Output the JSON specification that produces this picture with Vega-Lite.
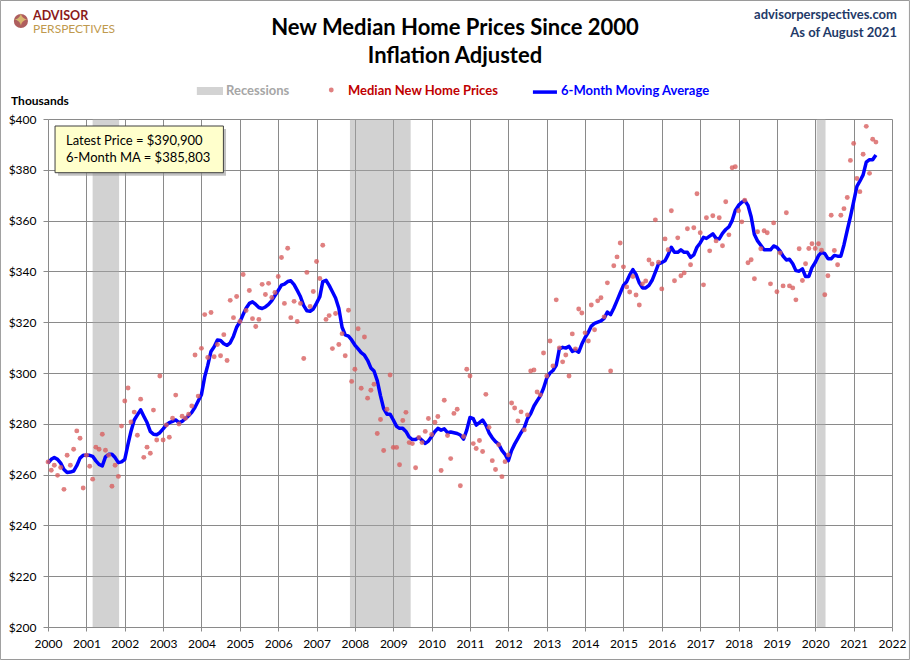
{
  "$schema": "https://vega.github.io/schema/vega-lite/v6.json",
  "description": "New median home prices since 2000, inflation adjusted, with 6-month moving average and recessions",
  "width": 844,
  "height": 508,
  "autosize": "none",
  "padding": {"left": 48, "top": 119, "right": 18, "bottom": 33},
  "background": "white",
  "datasets": {
    "recessions": [
      {"start": "2001-03-01", "end": "2001-11-08"},
      {"start": "2007-11-15", "end": "2009-06-15"},
      {"start": "2020-01-15", "end": "2020-04-08"}
    ],
    "prices": [
      {"d": "2000-01-01", "p": 265, "m": 264.5},
      {"d": "2000-02-01", "p": 261.7, "m": 266},
      {"d": "2000-03-01", "p": 263.7, "m": 266.7},
      {"d": "2000-04-01", "p": 259.7, "m": 266},
      {"d": "2000-05-01", "p": 262.8, "m": 264.5},
      {"d": "2000-06-01", "p": 254.2, "m": 262},
      {"d": "2000-07-01", "p": 267.6, "m": 260.8},
      {"d": "2000-08-01", "p": 263.7, "m": 261},
      {"d": "2000-09-01", "p": 270, "m": 261.4},
      {"d": "2000-10-01", "p": 277.2, "m": 263.5},
      {"d": "2000-11-01", "p": 274.3, "m": 266.5},
      {"d": "2000-12-01", "p": 254.7, "m": 267.6},
      {"d": "2001-01-01", "p": 267.6, "m": 267.6},
      {"d": "2001-02-01", "p": 263.3, "m": 267.6},
      {"d": "2001-03-01", "p": 258.2, "m": 267.2},
      {"d": "2001-04-01", "p": 270.8, "m": 265.4},
      {"d": "2001-05-01", "p": 270, "m": 264},
      {"d": "2001-06-01", "p": 275.9, "m": 263.4},
      {"d": "2001-07-01", "p": 269.6, "m": 267},
      {"d": "2001-08-01", "p": 267.6, "m": 268},
      {"d": "2001-09-01", "p": 255.4, "m": 268},
      {"d": "2001-10-01", "p": 263.7, "m": 266.7},
      {"d": "2001-11-01", "p": 259.3, "m": 264.7},
      {"d": "2001-12-01", "p": 279.1, "m": 265},
      {"d": "2002-01-01", "p": 289, "m": 266},
      {"d": "2002-02-01", "p": 294.1, "m": 272},
      {"d": "2002-03-01", "p": 280.7, "m": 277},
      {"d": "2002-04-01", "p": 284.6, "m": 281.5},
      {"d": "2002-05-01", "p": 275.5, "m": 283.5},
      {"d": "2002-06-01", "p": 289.7, "m": 285.5},
      {"d": "2002-07-01", "p": 266.8, "m": 283},
      {"d": "2002-08-01", "p": 270.8, "m": 280.5},
      {"d": "2002-09-01", "p": 268.4, "m": 277},
      {"d": "2002-10-01", "p": 285.4, "m": 275.9},
      {"d": "2002-11-01", "p": 273.6, "m": 275.7},
      {"d": "2002-12-01", "p": 298.8, "m": 276.5},
      {"d": "2003-01-01", "p": 273.6, "m": 278},
      {"d": "2003-02-01", "p": 279.5, "m": 279.6},
      {"d": "2003-03-01", "p": 274.7, "m": 280.5},
      {"d": "2003-04-01", "p": 282.2, "m": 281},
      {"d": "2003-05-01", "p": 291.3, "m": 281.5},
      {"d": "2003-06-01", "p": 279.9, "m": 280.5},
      {"d": "2003-07-01", "p": 283, "m": 281},
      {"d": "2003-08-01", "p": 282.2, "m": 282},
      {"d": "2003-09-01", "p": 283.8, "m": 283.2},
      {"d": "2003-10-01", "p": 287, "m": 284.5},
      {"d": "2003-11-01", "p": 307.1, "m": 286.5},
      {"d": "2003-12-01", "p": 290.9, "m": 289},
      {"d": "2004-01-01", "p": 309.7, "m": 291.5},
      {"d": "2004-02-01", "p": 323, "m": 298.5},
      {"d": "2004-03-01", "p": 306.1, "m": 303},
      {"d": "2004-04-01", "p": 323.8, "m": 308.5},
      {"d": "2004-05-01", "p": 306.4, "m": 310.3},
      {"d": "2004-06-01", "p": 311.2, "m": 313},
      {"d": "2004-07-01", "p": 306.8, "m": 312.8},
      {"d": "2004-08-01", "p": 315.1, "m": 311.5},
      {"d": "2004-09-01", "p": 304.9, "m": 310.9},
      {"d": "2004-10-01", "p": 328.6, "m": 311.9},
      {"d": "2004-11-01", "p": 321.8, "m": 314.5},
      {"d": "2004-12-01", "p": 330.1, "m": 318},
      {"d": "2005-01-01", "p": 320.3, "m": 320.1},
      {"d": "2005-02-01", "p": 338.8, "m": 323},
      {"d": "2005-03-01", "p": 324.6, "m": 325.5},
      {"d": "2005-04-01", "p": 332.5, "m": 327.4},
      {"d": "2005-05-01", "p": 321.4, "m": 328},
      {"d": "2005-06-01", "p": 318.3, "m": 327},
      {"d": "2005-07-01", "p": 321.1, "m": 325.8},
      {"d": "2005-08-01", "p": 334.9, "m": 325.4},
      {"d": "2005-09-01", "p": 330.9, "m": 326},
      {"d": "2005-10-01", "p": 335.3, "m": 327},
      {"d": "2005-11-01", "p": 329.7, "m": 328.5},
      {"d": "2005-12-01", "p": 331.7, "m": 330.5},
      {"d": "2006-01-01", "p": 338, "m": 332.5},
      {"d": "2006-02-01", "p": 345.5, "m": 334.6},
      {"d": "2006-03-01", "p": 327.4, "m": 335},
      {"d": "2006-04-01", "p": 349.1, "m": 336},
      {"d": "2006-05-01", "p": 321.8, "m": 336.3},
      {"d": "2006-06-01", "p": 328.2, "m": 334.8},
      {"d": "2006-07-01", "p": 320.3, "m": 332.5},
      {"d": "2006-08-01", "p": 327.4, "m": 330},
      {"d": "2006-09-01", "p": 305.7, "m": 326.5},
      {"d": "2006-10-01", "p": 339.6, "m": 324.5},
      {"d": "2006-11-01", "p": 326.2, "m": 324.3},
      {"d": "2006-12-01", "p": 332.1, "m": 325.2},
      {"d": "2007-01-01", "p": 343.9, "m": 327.5},
      {"d": "2007-02-01", "p": 337.2, "m": 330},
      {"d": "2007-03-01", "p": 350.3, "m": 336},
      {"d": "2007-04-01", "p": 321.1, "m": 336.5},
      {"d": "2007-05-01", "p": 322.6, "m": 334.5},
      {"d": "2007-06-01", "p": 309.6, "m": 332},
      {"d": "2007-07-01", "p": 323.4, "m": 329.5},
      {"d": "2007-08-01", "p": 311.2, "m": 325.5},
      {"d": "2007-09-01", "p": 315.5, "m": 318},
      {"d": "2007-10-01", "p": 306.8, "m": 315},
      {"d": "2007-11-01", "p": 324.7, "m": 314.5},
      {"d": "2007-12-01", "p": 296.7, "m": 313},
      {"d": "2008-01-01", "p": 301.5, "m": 311},
      {"d": "2008-02-01", "p": 317.4, "m": 309.5},
      {"d": "2008-03-01", "p": 294, "m": 308},
      {"d": "2008-04-01", "p": 314.2, "m": 307},
      {"d": "2008-05-01", "p": 290.1, "m": 305},
      {"d": "2008-06-01", "p": 293.2, "m": 302},
      {"d": "2008-07-01", "p": 295.6, "m": 300.8},
      {"d": "2008-08-01", "p": 276.2, "m": 297},
      {"d": "2008-09-01", "p": 281.7, "m": 291},
      {"d": "2008-10-01", "p": 269.5, "m": 286},
      {"d": "2008-11-01", "p": 285.7, "m": 283.8},
      {"d": "2008-12-01", "p": 299.2, "m": 283.8},
      {"d": "2009-01-01", "p": 270.7, "m": 281.5},
      {"d": "2009-02-01", "p": 270.7, "m": 279},
      {"d": "2009-03-01", "p": 263.9, "m": 278.2},
      {"d": "2009-04-01", "p": 281.3, "m": 278.2},
      {"d": "2009-05-01", "p": 284.5, "m": 277},
      {"d": "2009-06-01", "p": 272.6, "m": 274.8},
      {"d": "2009-07-01", "p": 272.2, "m": 273.8},
      {"d": "2009-08-01", "p": 262.7, "m": 273.8},
      {"d": "2009-09-01", "p": 274.6, "m": 274.6},
      {"d": "2009-10-01", "p": 272.6, "m": 273.5},
      {"d": "2009-11-01", "p": 277, "m": 272.3},
      {"d": "2009-12-01", "p": 282.1, "m": 273.2},
      {"d": "2010-01-01", "p": 275.8, "m": 275},
      {"d": "2010-02-01", "p": 280.6, "m": 277},
      {"d": "2010-03-01", "p": 282.9, "m": 278.2},
      {"d": "2010-04-01", "p": 261.6, "m": 277.5},
      {"d": "2010-05-01", "p": 289.3, "m": 278},
      {"d": "2010-06-01", "p": 275.4, "m": 276.5},
      {"d": "2010-07-01", "p": 266.3, "m": 276.8},
      {"d": "2010-08-01", "p": 284.1, "m": 276.5},
      {"d": "2010-09-01", "p": 285.7, "m": 276.2},
      {"d": "2010-10-01", "p": 255.6, "m": 275.6},
      {"d": "2010-11-01", "p": 275, "m": 274},
      {"d": "2010-12-01", "p": 301.5, "m": 277.5},
      {"d": "2011-01-01", "p": 298.8, "m": 282.5},
      {"d": "2011-02-01", "p": 272.2, "m": 282},
      {"d": "2011-03-01", "p": 270.3, "m": 279.5},
      {"d": "2011-04-01", "p": 273.4, "m": 280.5},
      {"d": "2011-05-01", "p": 269.1, "m": 281.5},
      {"d": "2011-06-01", "p": 291.6, "m": 279.5},
      {"d": "2011-07-01", "p": 278.6, "m": 276.5},
      {"d": "2011-08-01", "p": 265.5, "m": 274.5},
      {"d": "2011-09-01", "p": 262, "m": 273},
      {"d": "2011-10-01", "p": 271.8, "m": 272},
      {"d": "2011-11-01", "p": 259.2, "m": 269.5},
      {"d": "2011-12-01", "p": 265.1, "m": 268},
      {"d": "2012-01-01", "p": 267.7, "m": 265.5},
      {"d": "2012-02-01", "p": 288.2, "m": 269.5},
      {"d": "2012-03-01", "p": 286.2, "m": 272},
      {"d": "2012-04-01", "p": 281.1, "m": 274.3},
      {"d": "2012-05-01", "p": 284.7, "m": 276.5},
      {"d": "2012-06-01", "p": 277.6, "m": 278.5},
      {"d": "2012-07-01", "p": 283.5, "m": 282},
      {"d": "2012-08-01", "p": 300.8, "m": 284},
      {"d": "2012-09-01", "p": 301.2, "m": 287},
      {"d": "2012-10-01", "p": 292.5, "m": 289},
      {"d": "2012-11-01", "p": 291.4, "m": 291},
      {"d": "2012-12-01", "p": 307.9, "m": 294},
      {"d": "2013-01-01", "p": 298.8, "m": 298},
      {"d": "2013-02-01", "p": 312.6, "m": 300},
      {"d": "2013-03-01", "p": 302.8, "m": 301},
      {"d": "2013-04-01", "p": 328.8, "m": 303},
      {"d": "2013-05-01", "p": 309.9, "m": 309.5},
      {"d": "2013-06-01", "p": 304.4, "m": 310.1},
      {"d": "2013-07-01", "p": 307.1, "m": 309.8},
      {"d": "2013-08-01", "p": 298.8, "m": 310.5},
      {"d": "2013-09-01", "p": 315.4, "m": 308.5},
      {"d": "2013-10-01", "p": 309.5, "m": 309},
      {"d": "2013-11-01", "p": 325.2, "m": 308.2},
      {"d": "2013-12-01", "p": 323.6, "m": 311.4},
      {"d": "2014-01-01", "p": 315.8, "m": 314},
      {"d": "2014-02-01", "p": 312.6, "m": 316},
      {"d": "2014-03-01", "p": 326.8, "m": 318.5},
      {"d": "2014-04-01", "p": 317, "m": 319.5},
      {"d": "2014-05-01", "p": 328.4, "m": 320},
      {"d": "2014-06-01", "p": 329.6, "m": 320.5},
      {"d": "2014-07-01", "p": 322.1, "m": 321.5},
      {"d": "2014-08-01", "p": 335.5, "m": 324},
      {"d": "2014-09-01", "p": 300.8, "m": 323},
      {"d": "2014-10-01", "p": 342.2, "m": 325.5},
      {"d": "2014-11-01", "p": 345.7, "m": 328.5},
      {"d": "2014-12-01", "p": 351.2, "m": 331.5},
      {"d": "2015-01-01", "p": 341.8, "m": 334.5},
      {"d": "2015-02-01", "p": 333.9, "m": 336},
      {"d": "2015-03-01", "p": 331.9, "m": 338.5},
      {"d": "2015-04-01", "p": 338, "m": 340.7},
      {"d": "2015-05-01", "p": 330.7, "m": 338.8},
      {"d": "2015-06-01", "p": 326.8, "m": 335.5},
      {"d": "2015-07-01", "p": 335.1, "m": 333.5},
      {"d": "2015-08-01", "p": 336.2, "m": 333.5},
      {"d": "2015-09-01", "p": 344.5, "m": 334.5},
      {"d": "2015-10-01", "p": 342.9, "m": 336.5},
      {"d": "2015-11-01", "p": 360.3, "m": 339.7},
      {"d": "2015-12-01", "p": 343.6, "m": 343},
      {"d": "2016-01-01", "p": 333.1, "m": 343.5},
      {"d": "2016-02-01", "p": 352.8, "m": 344.2},
      {"d": "2016-03-01", "p": 348.5, "m": 346.5},
      {"d": "2016-04-01", "p": 363.9, "m": 349.5},
      {"d": "2016-05-01", "p": 336.3, "m": 347.5},
      {"d": "2016-06-01", "p": 353.2, "m": 347.5},
      {"d": "2016-07-01", "p": 338.3, "m": 348.5},
      {"d": "2016-08-01", "p": 339.4, "m": 347.5},
      {"d": "2016-09-01", "p": 356.8, "m": 347.5},
      {"d": "2016-10-01", "p": 342.6, "m": 345.5},
      {"d": "2016-11-01", "p": 357.2, "m": 346.5},
      {"d": "2016-12-01", "p": 370.6, "m": 349.5},
      {"d": "2017-01-01", "p": 355.2, "m": 351.2},
      {"d": "2017-02-01", "p": 334.7, "m": 353.4},
      {"d": "2017-03-01", "p": 361.1, "m": 353},
      {"d": "2017-04-01", "p": 348.1, "m": 353.9},
      {"d": "2017-05-01", "p": 361.9, "m": 354.8},
      {"d": "2017-06-01", "p": 352, "m": 353},
      {"d": "2017-07-01", "p": 361.1, "m": 352.8},
      {"d": "2017-08-01", "p": 350.1, "m": 355},
      {"d": "2017-09-01", "p": 367.4, "m": 356.5},
      {"d": "2017-10-01", "p": 354.4, "m": 357.5},
      {"d": "2017-11-01", "p": 380.8, "m": 360},
      {"d": "2017-12-01", "p": 381.2, "m": 364},
      {"d": "2018-01-01", "p": 363.9, "m": 366},
      {"d": "2018-02-01", "p": 359.5, "m": 367.2},
      {"d": "2018-03-01", "p": 368, "m": 367.9},
      {"d": "2018-04-01", "p": 343.4, "m": 366},
      {"d": "2018-05-01", "p": 344.6, "m": 361.5},
      {"d": "2018-06-01", "p": 337.1, "m": 354.5},
      {"d": "2018-07-01", "p": 355.6, "m": 352},
      {"d": "2018-08-01", "p": 348.9, "m": 350.3},
      {"d": "2018-09-01", "p": 356, "m": 348.5},
      {"d": "2018-10-01", "p": 355.2, "m": 348.5},
      {"d": "2018-11-01", "p": 335.1, "m": 348.5},
      {"d": "2018-12-01", "p": 359.1, "m": 350},
      {"d": "2019-01-01", "p": 332, "m": 349.5},
      {"d": "2019-02-01", "p": 347.3, "m": 348},
      {"d": "2019-03-01", "p": 334.3, "m": 346},
      {"d": "2019-04-01", "p": 363.1, "m": 344.5},
      {"d": "2019-05-01", "p": 334.3, "m": 344.8},
      {"d": "2019-06-01", "p": 333.5, "m": 343},
      {"d": "2019-07-01", "p": 328.8, "m": 340.3},
      {"d": "2019-08-01", "p": 348.9, "m": 340.1},
      {"d": "2019-09-01", "p": 336.4, "m": 341},
      {"d": "2019-10-01", "p": 343, "m": 338},
      {"d": "2019-11-01", "p": 349, "m": 338},
      {"d": "2019-12-01", "p": 350.9, "m": 341.5},
      {"d": "2020-01-01", "p": 349, "m": 343.5},
      {"d": "2020-02-01", "p": 350.9, "m": 346.2},
      {"d": "2020-03-01", "p": 348.3, "m": 347.5},
      {"d": "2020-04-01", "p": 330.8, "m": 347},
      {"d": "2020-05-01", "p": 338.3, "m": 345},
      {"d": "2020-06-01", "p": 362.1, "m": 345},
      {"d": "2020-07-01", "p": 348.2, "m": 346.3},
      {"d": "2020-08-01", "p": 342.6, "m": 346},
      {"d": "2020-09-01", "p": 362.1, "m": 346},
      {"d": "2020-10-01", "p": 364.7, "m": 350.5},
      {"d": "2020-11-01", "p": 369.1, "m": 356.2},
      {"d": "2020-12-01", "p": 383.7, "m": 361.5},
      {"d": "2021-01-01", "p": 390.4, "m": 367.5},
      {"d": "2021-02-01", "p": 376.6, "m": 373.5},
      {"d": "2021-03-01", "p": 371.4, "m": 375.5},
      {"d": "2021-04-01", "p": 386.1, "m": 378},
      {"d": "2021-05-01", "p": 397.1, "m": 383},
      {"d": "2021-06-01", "p": 378.6, "m": 384},
      {"d": "2021-07-01", "p": 392, "m": 384},
      {"d": "2021-08-01", "p": 390.9, "m": 385.8}
    ]
  },
  "layer": [
    {
      "data": {"name": "recessions"},
      "mark": {"type": "rect", "color": "#a6a6a6", "opacity": 0.5},
      "encoding": {
        "x": {
          "field": "start",
          "type": "temporal",
          "scale": {
            "type": "utc",
            "domain": [
              {"year": 2000, "month": 1, "date": 1, "utc": true},
              {"year": 2022, "month": 1, "date": 1, "utc": true}
            ],
            "nice": false
          },
          "axis": {
            "title": null,
            "format": "%Y",
            "tickCount": {"interval": "year", "step": 1},
            "grid": true,
            "gridColor": "#8a8a8a",
            "gridWidth": 1,
            "domain": false,
            "tickSize": 4,
            "tickColor": "#8a8a8a",
            "labelFont": "Lato",
            "labelFontSize": 12,
            "labelColor": "black",
            "labelPadding": 7,
            "labelFlush": false,
            "labelOverlap": false
          }
        },
        "x2": {"field": "end"},
        "y": {
          "datum": 400,
          "type": "quantitative",
          "scale": {"domain": [200, 400], "nice": false, "zero": false},
          "axis": {
            "title": null,
            "values": [200, 220, 240, 260, 280, 300, 320, 340, 360, 380, 400],
            "labelExpr": "'$' + datum.value",
            "grid": true,
            "gridColor": "#8a8a8a",
            "gridWidth": 1,
            "domain": false,
            "tickSize": 5,
            "tickColor": "#8a8a8a",
            "labelFont": "Lato",
            "labelFontSize": 12,
            "labelColor": "black",
            "labelPadding": 7
          }
        },
        "y2": {"datum": 200}
      }
    },
    {
      "data": {"name": "prices"},
      "mark": {"type": "line", "color": "#0000ff", "strokeWidth": 3.5, "strokeJoin": "round"},
      "encoding": {
        "x": {"field": "d", "type": "temporal"},
        "y": {"field": "m", "type": "quantitative"}
      }
    },
    {
      "data": {"name": "prices"},
      "mark": {"type": "circle", "color": "#d86060", "opacity": 0.8, "size": 24},
      "encoding": {
        "x": {"field": "d", "type": "temporal"},
        "y": {"field": "p", "type": "quantitative"}
      }
    },
    {
      "data": {"values": [{}]},
      "layer": [
        {
          "mark": {"type": "text", "font": "Lato", "fontSize": 22, "fontWeight": "bold", "align": "center", "baseline": "alphabetic", "color": "black"},
          "encoding": {
            "x": {"datum": {"year": 2010, "month": 8, "date": 11, "utc": true}, "type": "temporal"},
            "y": {"datum": 433.07, "type": "quantitative"},
            "text": {"value": "New Median Home Prices Since 2000"}
          }
        },
        {
          "mark": {"type": "text", "font": "Lato", "fontSize": 22, "fontWeight": "bold", "align": "center", "baseline": "alphabetic", "color": "black"},
          "encoding": {
            "x": {"datum": {"year": 2010, "month": 8, "date": 11, "utc": true}, "type": "temporal"},
            "y": {"datum": 421.9, "type": "quantitative"},
            "text": {"value": "Inflation Adjusted"}
          }
        },
        {
          "mark": {"type": "rect", "color": "#9a9a9a", "opacity": 0.6},
          "encoding": {
            "x": {"datum": {"year": 2000, "month": 4, "date": 5, "utc": true}, "type": "temporal"},
            "x2": {"datum": {"year": 2004, "month": 8, "date": 22, "utc": true}},
            "y": {"datum": 396.06, "type": "quantitative"},
            "y2": {"datum": 377.68}
          }
        },
        {
          "mark": {"type": "rect", "fill": "#ffffcc", "stroke": "#404040", "strokeWidth": 1},
          "encoding": {
            "x": {"datum": {"year": 2000, "month": 3, "date": 8, "utc": true}, "type": "temporal"},
            "x2": {"datum": {"year": 2004, "month": 7, "date": 28, "utc": true}},
            "y": {"datum": 397.24, "type": "quantitative"},
            "y2": {"datum": 378.86}
          }
        },
        {
          "mark": {"type": "text", "font": "Lato", "fontSize": 13, "align": "left", "baseline": "middle", "color": "black"},
          "encoding": {
            "x": {"datum": {"year": 2000, "month": 6, "date": 20, "utc": true}, "type": "temporal"},
            "y": {"datum": 391.46, "type": "quantitative"},
            "text": {"value": "Latest Price = $390,900"}
          }
        },
        {
          "mark": {"type": "text", "font": "Lato", "fontSize": 13, "align": "left", "baseline": "middle", "color": "black"},
          "encoding": {
            "x": {"datum": {"year": 2000, "month": 6, "date": 20, "utc": true}, "type": "temporal"},
            "y": {"datum": 384.65, "type": "quantitative"},
            "text": {"value": "6-Month MA = $385,803"}
          }
        },
        {
          "mark": {"type": "rect", "color": "#d3d3d3"},
          "encoding": {
            "x": {"datum": {"year": 2003, "month": 11, "date": 18, "utc": true}, "type": "temporal"},
            "x2": {"datum": {"year": 2004, "month": 7, "date": 24, "utc": true}},
            "y": {"datum": 412.6, "type": "quantitative"},
            "y2": {"datum": 409.45}
          }
        },
        {
          "mark": {"type": "text", "font": "Lato", "fontSize": 13, "fontWeight": "bold", "align": "left", "baseline": "middle", "color": "#a6a6a6"},
          "encoding": {
            "x": {"datum": {"year": 2004, "month": 8, "date": 22, "utc": true}, "type": "temporal"},
            "y": {"datum": 411.02, "type": "quantitative"},
            "text": {"value": "Recessions"}
          }
        },
        {
          "mark": {"type": "circle", "color": "#d86060", "opacity": 0.8, "size": 24},
          "encoding": {
            "x": {"datum": {"year": 2007, "month": 5, "date": 21, "utc": true}, "type": "temporal"},
            "y": {"datum": 411.4, "type": "quantitative"}
          }
        },
        {
          "mark": {"type": "text", "font": "Lato", "fontSize": 13, "fontWeight": "bold", "align": "left", "baseline": "middle", "color": "#c00000"},
          "encoding": {
            "x": {"datum": {"year": 2007, "month": 10, "date": 27, "utc": true}, "type": "temporal"},
            "y": {"datum": 411.02, "type": "quantitative"},
            "text": {"value": "Median New Home Prices"}
          }
        },
        {
          "mark": {"type": "rule", "color": "#0000ff", "strokeWidth": 3.5},
          "encoding": {
            "x": {"datum": {"year": 2012, "month": 8, "date": 22, "utc": true}, "type": "temporal"},
            "x2": {"datum": {"year": 2013, "month": 4, "date": 8, "utc": true}},
            "y": {"datum": 410.6, "type": "quantitative"}
          }
        },
        {
          "mark": {"type": "text", "font": "Lato", "fontSize": 13, "fontWeight": "bold", "align": "left", "baseline": "middle", "color": "#0000ff"},
          "encoding": {
            "x": {"datum": {"year": 2013, "month": 5, "date": 17, "utc": true}, "type": "temporal"},
            "y": {"datum": 411.02, "type": "quantitative"},
            "text": {"value": "6-Month Moving Average"}
          }
        },
        {
          "mark": {"type": "text", "font": "Lato", "fontSize": 12, "fontWeight": "bold", "align": "left", "baseline": "alphabetic", "color": "black"},
          "encoding": {
            "x": {"datum": {"year": 1999, "month": 1, "date": 14, "utc": true}, "type": "temporal"},
            "y": {"datum": 405.5, "type": "quantitative"},
            "text": {"value": "Thousands"}
          }
        },
        {
          "mark": {"type": "text", "font": "Lato", "fontSize": 13, "fontWeight": "bold", "align": "right", "baseline": "alphabetic", "color": "#1f3a68"},
          "encoding": {
            "x": {"datum": {"year": 2022, "month": 2, "date": 17, "utc": true}, "type": "temporal"},
            "y": {"datum": 439.37, "type": "quantitative"},
            "text": {"value": "advisorperspectives.com"}
          }
        },
        {
          "mark": {"type": "text", "font": "Lato", "fontSize": 13, "fontWeight": "bold", "align": "right", "baseline": "alphabetic", "color": "#1f3a68"},
          "encoding": {
            "x": {"datum": {"year": 2022, "month": 2, "date": 17, "utc": true}, "type": "temporal"},
            "y": {"datum": 432.4, "type": "quantitative"},
            "text": {"value": "As of August 2021"}
          }
        },
        {
          "mark": {"type": "point", "shape": "circle", "filled": true, "color": "#8b1a1a", "size": 200},
          "encoding": {
            "x": {"datum": {"year": 1999, "month": 4, "date": 18, "utc": true}, "type": "temporal"},
            "y": {"datum": 438.58, "type": "quantitative"}
          }
        },
        {
          "mark": {"type": "text", "font": "DejaVu Sans", "fontSize": 18, "align": "center", "baseline": "middle", "color": "#d9b870"},
          "encoding": {
            "x": {"datum": {"year": 1999, "month": 4, "date": 18, "utc": true}, "type": "temporal"},
            "y": {"datum": 438.58, "type": "quantitative"},
            "text": {"value": "✦"}
          }
        },
        {
          "mark": {"type": "text", "font": "Lato", "fontSize": 12.5, "fontWeight": "bold", "align": "left", "baseline": "alphabetic", "color": "#8b1a1a"},
          "encoding": {
            "x": {"datum": {"year": 1999, "month": 8, "date": 11, "utc": true}, "type": "temporal"},
            "y": {"datum": 439.0, "type": "quantitative"},
            "text": {"value": "ADVISOR"}
          }
        },
        {
          "mark": {"type": "text", "font": "Lato", "fontSize": 12, "align": "left", "baseline": "alphabetic", "color": "#bf9a4e"},
          "encoding": {
            "x": {"datum": {"year": 1999, "month": 8, "date": 11, "utc": true}, "type": "temporal"},
            "y": {"datum": 433.86, "type": "quantitative"},
            "text": {"value": "PERSPECTIVES"}
          }
        },
        {
          "mark": {"type": "rect", "filled": false, "color": "#9a9a9a", "strokeWidth": 1},
          "encoding": {
            "x": {"datum": {"year": 1998, "month": 10, "date": 5, "utc": true}, "type": "temporal"},
            "x2": {"datum": {"year": 2022, "month": 6, "date": 16, "utc": true}},
            "y": {"datum": 446.65, "type": "quantitative"},
            "y2": {"datum": 187.2}
          }
        }
      ]
    }
  ],
  "config": {
    "view": {"stroke": null},
    "font": "Lato"
  }
}
